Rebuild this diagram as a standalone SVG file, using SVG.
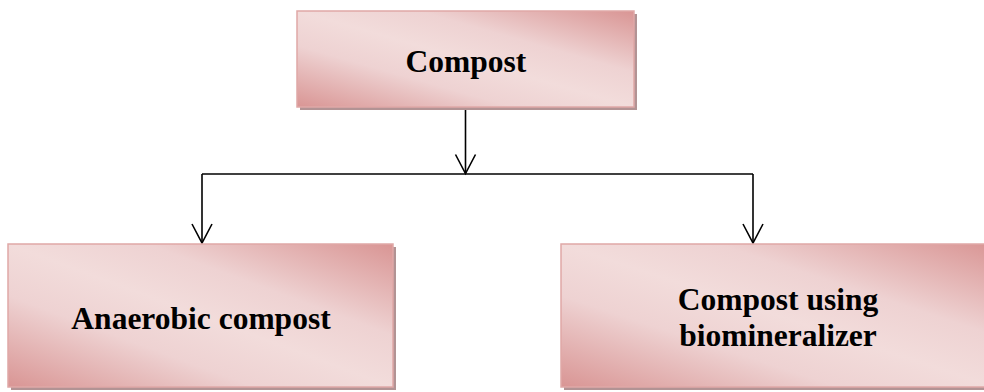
<svg xmlns="http://www.w3.org/2000/svg" width="984" height="392" viewBox="0 0 984 392">
  <defs>
    <linearGradient id="pinkFill" x1="0" y1="1" x2="1" y2="0">
      <stop offset="0" stop-color="#d99594"/>
      <stop offset="0.32" stop-color="#eed2d2"/>
      <stop offset="0.5" stop-color="#f2dcdb"/>
      <stop offset="0.68" stop-color="#eed2d2"/>
      <stop offset="1" stop-color="#d99594"/>
    </linearGradient>
    <marker id="vhead" markerUnits="userSpaceOnUse" markerWidth="22" markerHeight="24" refX="19" refY="11" orient="auto" overflow="visible">
      <path d="M0,1 L19,11 L0,21" fill="none" stroke="#000" stroke-width="1.6"/>
    </marker>
  </defs>
  <style>
    .shadow { fill: #b29394; }
    .box { fill: url(#pinkFill); stroke: #dfa8a7; stroke-width: 1.5; }
    .label { font-family: 'Liberation Serif', Tinos, 'DejaVu Serif', serif; font-weight: 700; font-size: 31.5px; fill: #000; text-anchor: middle; }
    .wire { fill: none; stroke: #000; stroke-width: 1.6; }
  </style>
  <rect width="984" height="392" fill="#fff"/>

  <g id="connectors">
    <path class="wire" d="M465.5,107 V173.5" marker-end="url(#vhead)"/>
    <path class="wire" d="M202,174 H753"/>
    <path class="wire" d="M202,174 V243" marker-end="url(#vhead)"/>
    <path class="wire" d="M753,174 V243" marker-end="url(#vhead)"/>
  </g>

  <g id="node-compost">
    <rect class="shadow" x="300" y="14" width="337" height="96"/>
    <rect class="box" x="297" y="11" width="337" height="96"/>
    <text class="label" font-family="Liberation Serif, serif" x="466" y="72">Compost</text>
  </g>

  <g id="node-anaerobic">
    <rect class="shadow" x="11" y="247" width="385" height="143"/>
    <rect class="box" x="8" y="244" width="385" height="143"/>
    <text class="label" font-family="Liberation Serif, serif" x="201" y="329">Anaerobic compost</text>
  </g>

  <g id="node-biomineralizer">
    <rect class="shadow" x="564" y="247" width="434" height="143"/>
    <rect class="box" x="561" y="244" width="434" height="143"/>
    <text class="label" font-family="Liberation Serif, serif" x="778" y="310">Compost using</text>
    <text class="label" font-family="Liberation Serif, serif" x="778" y="346">biomineralizer</text>
  </g>
</svg>
